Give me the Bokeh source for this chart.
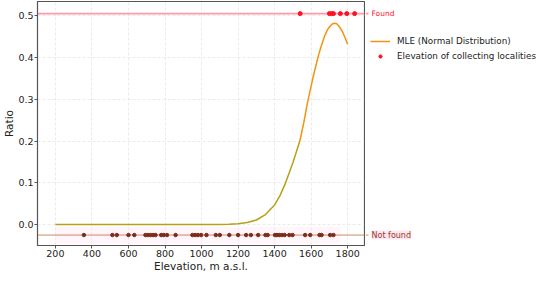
from bokeh.plotting import figure
from bokeh.layouts import row
from bokeh.models import (Range1d, Span, Label, Legend, LegendItem, PrintfTickFormatter,
                          FixedTicker, BoxAnnotation)
from bokeh.embed import file_html
from bokeh.resources import INLINE

# ---- data ----
curve_x = [200, 400, 600, 800, 1000, 1100, 1150, 1200, 1250, 1300, 1350, 1400, 1430, 1460,
           1500, 1538, 1560, 1580, 1610, 1640, 1655, 1675, 1690, 1700, 1715, 1728, 1740,
           1750, 1760, 1770, 1785, 1800]
curve_y = [0, 0, 0, 0, 0, 0.0003, 0.001, 0.002, 0.005, 0.011, 0.024, 0.047, 0.07, 0.1,
           0.148, 0.2, 0.245, 0.292, 0.352, 0.405, 0.427, 0.453, 0.467, 0.473, 0.480, 0.482,
           0.481, 0.476, 0.470, 0.463, 0.448, 0.432]

found_x = [1540, 1700, 1712, 1722, 1760, 1795, 1838]
notfound_x = [356, 512, 536, 600, 632, 693, 706, 721, 735, 748, 779, 793, 811, 858, 950,
              965, 980, 998, 1027, 1078, 1100, 1152, 1200, 1244, 1270, 1310, 1350, 1362,
              1402, 1412, 1426, 1440, 1455, 1480, 1498, 1567, 1595, 1646, 1657, 1704, 1722]
found_level = 0.505
notfound_level = -0.025
level_labels = ["Found", "Not found"]
legend_labels = ["MLE (Normal Distribution)", "Elevation of collecting localities"]

x_ticks = [200, 400, 600, 800, 1000, 1200, 1400, 1600, 1800]
y_ticks = [0.0, 0.1, 0.2, 0.3, 0.4, 0.5]

FONT = "DejaVu Sans"
ORANGE = "#f29312"
OLIVE = "#b5a216"
PINK = "#ff9aaa"
BROWN_LINE = "#c98a66"
TOP = 1
FH = 244  # frame height
FW = 327  # frame width

yr = Range1d(-0.05, 0.534)
p = figure(frame_width=FW, frame_height=FH, output_backend="svg", toolbar_location=None,
           x_range=Range1d(102, 1892), y_range=yr,
           min_border_left=0, min_border_right=1, min_border_top=TOP, min_border_bottom=0,
           background_fill_color="white", border_fill_color="white")

p.outline_line_color = "#555555"
p.outline_line_width = 1.2

for ax in (p.xaxis[0], p.yaxis[0]):
    ax.major_label_text_font = FONT
    ax.major_label_text_font_size = "9.5px"
    ax.major_label_text_color = "#222222"
    ax.axis_label_text_font = FONT
    ax.axis_label_text_font_size = "10.5px"
    ax.axis_label_text_font_style = "normal"
    ax.axis_label_text_color = "#222222"
    ax.axis_line_color = "#555555"
    ax.major_tick_line_color = "#555555"
    ax.major_tick_out = 3
    ax.major_tick_in = 0
    ax.minor_tick_line_color = None
    ax.major_label_standoff = 1
    ax.axis_label_standoff = 0

p.xaxis.ticker = FixedTicker(ticks=x_ticks)
p.yaxis.ticker = FixedTicker(ticks=y_ticks)
p.yaxis.formatter = PrintfTickFormatter(format="%.1f")
p.xaxis.axis_label = "Elevation, m a.s.l."
p.yaxis.axis_label = "Ratio"

p.grid.grid_line_color = "#e6e6e6"
p.grid.grid_line_dash = "3 2"
p.grid.grid_line_width = 0.8

# faint pink band around the not-found level
p.add_layout(BoxAnnotation(bottom=-0.045, top=-0.005, left=200, right=1760, level="underlay",
                           fill_color="#ffd6ea", fill_alpha=0.25, line_color=None))

# reference levels (below the markers)
p.add_layout(Span(location=found_level, dimension="width", line_color=PINK, line_width=1.6,
                  level="underlay"))
p.add_layout(Span(location=notfound_level, dimension="width", line_color=BROWN_LINE,
                  line_width=1, level="underlay"))

# MLE curve (lower part olive, upper part orange as in the picture)
split = curve_y.index(0.2) + 1
p.line(curve_x[:split], curve_y[:split], line_color=OLIVE, line_width=1.5)
p.line(curve_x[split - 1:], curve_y[split - 1:], line_color=ORANGE, line_width=1.5)

p.scatter(found_x, [found_level] * len(found_x), size=4, color="#ff1020")
p.scatter(notfound_x, [notfound_level] * len(notfound_x), size=3.5, color="#7a2e1a")

# ---- right side panel: level labels and legend ----
q = figure(frame_width=172, frame_height=FH, output_backend="svg", toolbar_location=None,
           x_range=Range1d(0, 172), y_range=yr,
           min_border_left=0, min_border_right=0, min_border_top=TOP, min_border_bottom=28,
           background_fill_color="white", border_fill_color="white")
q.axis.visible = False
q.grid.visible = False
q.outline_line_color = None

q.segment(x0=[0, 0], y0=[found_level, notfound_level], x1=[3, 3], y1=[found_level, notfound_level],
          line_color=[PINK, BROWN_LINE], line_width=[1.6, 1])
q.add_layout(Label(x=6, y=found_level, text=level_labels[0], text_color="#ff2030",
                   text_font=FONT, text_font_size="7.5px", text_baseline="middle"))
q.add_layout(Label(x=6, y=notfound_level, text=level_labels[1], text_color="#9a3a22",
                   text_font=FONT, text_font_size="8px", text_baseline="middle",
                   background_fill_color="#fde6f3", background_fill_alpha=0.9))

nan = float("nan")
r_line = q.line(x=[nan], y=[nan], line_color=ORANGE, line_width=1.5)
r_dot = q.scatter(x=[nan], y=[nan], size=4, color="#ff1020")
legend = Legend(items=[LegendItem(label=legend_labels[0], renderers=[r_line]),
                       LegendItem(label=legend_labels[1], renderers=[r_dot])],
                location=(5, FH - 32 - 30), padding=0, margin=0, spacing=0,
                label_height=15, glyph_height=8, glyph_width=20, label_standoff=7,
                label_text_font=FONT, label_text_font_size="8.8px", label_text_color="#222222",
                border_line_color=None, background_fill_alpha=0)
q.add_layout(legend)

layout = row(p, q)
open("out.html", "w").write(file_html(layout, INLINE))
